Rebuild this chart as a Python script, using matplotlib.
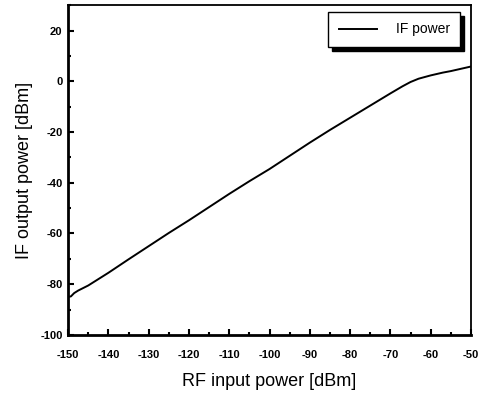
import matplotlib
matplotlib.use("Agg")
import matplotlib.pyplot as plt
from matplotlib.ticker import MultipleLocator

plt.rcParams['font.family'] = ['Liberation Sans', 'DejaVu Sans']
plt.rcParams['axes.unicode_minus'] = False

# RF input power [dBm] vs IF output power [dBm]
rf_in = [-150, -149.3, -148.5, -147.5, -145, -140, -135, -130, -125, -120, -115, -110,
         -105, -100, -95, -90, -85, -80, -75, -70, -67, -65, -63, -60, -57, -55, -50]
if_out = [-85.0, -84.8, -83.5, -82.5, -80.5, -75.5, -70.2, -65.0, -59.8, -54.8, -49.6, -44.4,
          -39.4, -34.6, -29.4, -24.2, -19.2, -14.4, -9.6, -4.8, -2.0, -0.3, 1.0, 2.3, 3.4, 4.0, 5.8]

fig = plt.figure(figsize=(4.83, 3.95), dpi=100)
ax = fig.add_axes([0.141, 0.152, 0.834, 0.835])

ax.plot(rf_in, if_out, color='black', linewidth=1.4, label='IF power')

ax.set_xlim(-150, -50)
ax.set_ylim(-100, 30)
ax.xaxis.set_major_locator(MultipleLocator(10))
ax.xaxis.set_minor_locator(MultipleLocator(5))
ax.yaxis.set_major_locator(MultipleLocator(20))
ax.yaxis.set_minor_locator(MultipleLocator(10))
ax.tick_params(which='both', direction='in', top=False, right=False, width=1.5)
ax.tick_params(which='major', length=4, labelsize=8)
ax.tick_params(axis='x', which='major', pad=11)
ax.tick_params(axis='y', which='major', pad=4)
ax.tick_params(which='minor', length=2.5)
for lbl in ax.get_xticklabels() + ax.get_yticklabels():
    lbl.set_fontweight('bold')
for sp in ax.spines.values():
    sp.set_linewidth(1.3)
ax.spines['left'].set_linewidth(2)
ax.spines['bottom'].set_linewidth(2)

ax.set_xlabel('RF input power [dBm]', fontsize=13, labelpad=9)
ax.set_ylabel('IF output power [dBm]', fontsize=13, labelpad=5)

leg = ax.legend(loc='upper right', bbox_to_anchor=(0.973, 0.979), borderaxespad=0,
                fancybox=False, edgecolor='black', fontsize=10, handlelength=2.8,
                handletextpad=1.3, borderpad=0.75,
                shadow={'color': 'black', 'alpha': 1, 'ox': 3, 'oy': -3})
leg.get_frame().set_linewidth(1.0)

plt.savefig("out.png", dpi=100)
